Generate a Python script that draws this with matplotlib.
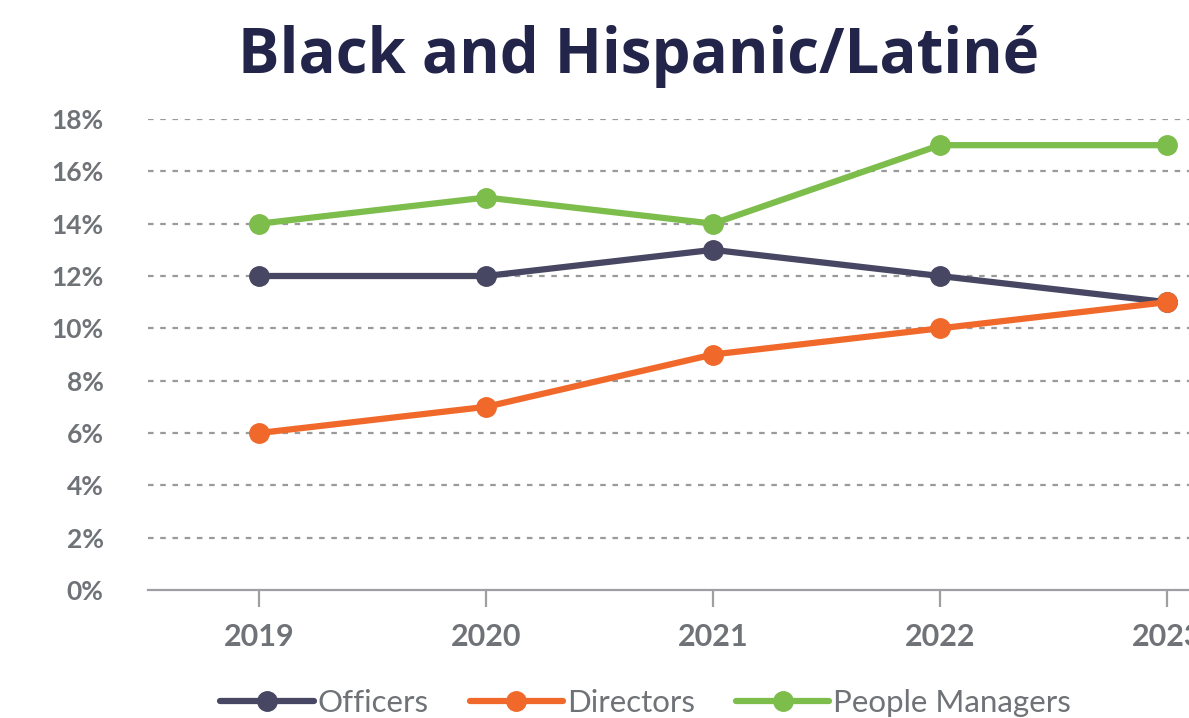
import matplotlib
matplotlib.use("Agg")
import matplotlib.pyplot as plt

years = [2019, 2020, 2021, 2022, 2023]
officers = [12, 12, 13, 12, 11]
directors = [6, 7, 9, 10, 11]
managers = [14, 15, 14, 17, 17]
yticks = [0, 2, 4, 6, 8, 10, 12, 14, 16, 18]

c_off = '#474763'
c_dir = '#f0692a'
c_man = '#7dbd4c'
c_txt = '#6f7276'

plt.rcParams['font.family'] = ['Lato', 'DejaVu Sans']

fig = plt.figure(figsize=(11.89, 7.18), dpi=100)
ax = fig.add_axes([148/1189, 128/718, 1130/1189, 471/718])

for vals, col, name in [(officers, c_off, 'Officers'),
                        (directors, c_dir, 'Directors'),
                        (managers, c_man, 'People Managers')]:
    ax.plot(years, vals, color=col, lw=4.5, marker='o', ms=14,
            label=name, clip_on=False, solid_capstyle='round')

ax.set_xlim(2018.51, 2023.49)
ax.set_ylim(0, 18)
ax.set_yticks(yticks)
ax.set_yticklabels([f'{v}%' for v in yticks])
ax.set_xticks(years)

for v in yticks[1:]:
    ax.axhline(v, color='#9a9a9a', lw=1.6, ls=(0, (2.5, 3)), zorder=0)

for s in ['top', 'right', 'left']:
    ax.spines[s].set_visible(False)
ax.spines['bottom'].set_color('#9d9fa2')
ax.spines['bottom'].set_linewidth(1.6)
ax.tick_params(axis='y', length=0, pad=32, labelsize=19, labelcolor=c_txt)
ax.tick_params(axis='x', length=12, width=1.6, color='#9d9fa2', pad=12,
               labelsize=22, labelcolor=c_txt)
for lab in ax.get_xticklabels() + ax.get_yticklabels():
    lab.set_fontweight('bold')

fig.text(0.537, 0.922, 'Black and Hispanic/Latiné', ha='center', va='center',
         fontsize=44.5, fontweight='bold', color='#22244a',
         family=['Open Sans', 'DejaVu Sans'])

leg = fig.legend(loc='center', bbox_to_anchor=(0.543, 0.021), ncol=3,
                 frameon=False, fontsize=22.5, handlelength=3.0,
                 handletextpad=0.12, columnspacing=1.3, labelcolor=c_txt)

fig.savefig('out.png', dpi=100)
